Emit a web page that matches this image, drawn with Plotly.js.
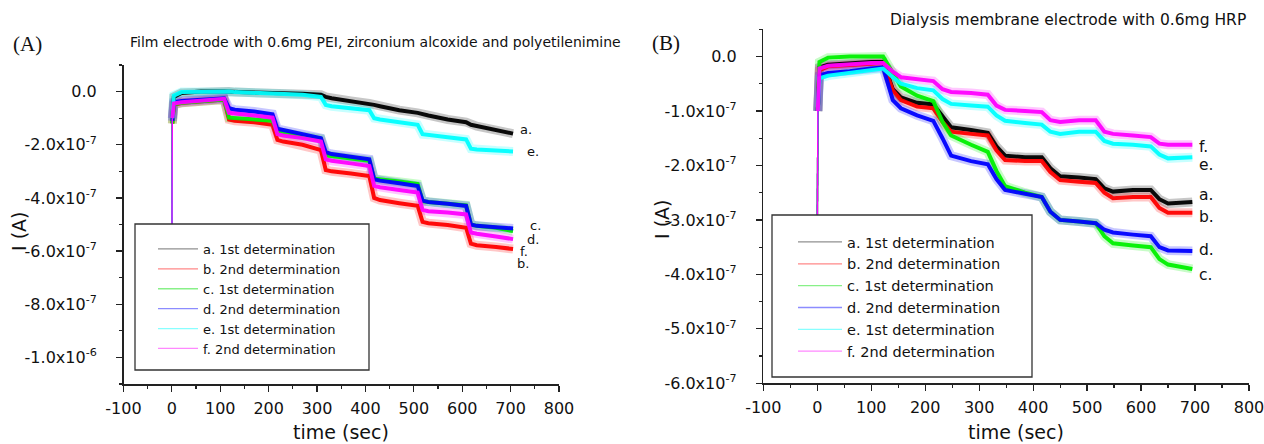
<!DOCTYPE html>
<html><head><meta charset="utf-8">
<script src="https://cdn.plot.ly/plotly-3.0.1.min.js"></script>
<style>html,body{margin:0;padding:0;background:#fff}#chart{width:1264px;height:444px}</style>
</head><body><div id="chart"></div>
<script>
const SCALE = 1e-7;
// Panel A: film electrode (current in units of 1e-7 A)
const timeA = [0, 1, 4, 20, 60, 108, 118, 130, 170, 208, 218, 230, 270, 308, 318, 330, 370, 408, 418, 430, 470, 508, 518, 530, 570, 608, 618, 630, 670, 705];
const A_a = [-6, -1.0, -0.2, -0.05, 0, 0, 0, -0.02, -0.03, -0.05, -0.05, -0.06, -0.08, -0.12, -0.2, -0.25, -0.35, -0.45, -0.5, -0.55, -0.7, -0.8, -0.85, -0.9, -1.05, -1.15, -1.25, -1.3, -1.45, -1.58];
const A_b = [-6, -1.2, -0.5, -0.42, -0.36, -0.3, -1.05, -1.1, -1.15, -1.25, -1.82, -1.88, -2.0, -2.2, -2.95, -3.0, -3.08, -3.18, -4.0, -4.08, -4.2, -4.3, -4.9, -4.95, -5.02, -5.12, -5.72, -5.78, -5.85, -5.92];
const A_c = [-6, -1.2, -0.48, -0.42, -0.35, -0.3, -0.98, -1.0, -1.05, -1.1, -1.5, -1.55, -1.68, -1.78, -2.4, -2.42, -2.5, -2.6, -3.28, -3.3, -3.38, -3.48, -4.12, -4.15, -4.22, -4.28, -5.0, -5.05, -5.12, -5.25];
const A_d = [-6, -1.1, -0.4, -0.35, -0.3, -0.25, -0.62, -0.68, -0.75, -0.85, -1.4, -1.45, -1.6, -1.75, -2.28, -2.35, -2.45, -2.55, -3.3, -3.35, -3.45, -3.55, -4.1, -4.15, -4.22, -4.3, -5.0, -5.05, -5.1, -5.15];
const A_e = [-6, -1.0, -0.15, -0.02, 0, 0, 0, -0.02, -0.04, -0.06, -0.07, -0.08, -0.12, -0.2, -0.5, -0.55, -0.62, -0.7, -1.0, -1.05, -1.15, -1.25, -1.6, -1.62, -1.72, -1.8, -2.15, -2.18, -2.22, -2.25];
const A_f = [-6, -1.0, -0.45, -0.4, -0.33, -0.27, -0.8, -0.82, -0.88, -0.98, -1.6, -1.65, -1.75, -1.88, -2.55, -2.6, -2.7, -2.8, -3.55, -3.6, -3.7, -3.8, -4.45, -4.5, -4.55, -4.62, -5.3, -5.35, -5.45, -5.55];
// Panel B: dialysis membrane electrode
const timeB = [0, 1, 4, 20, 60, 100, 122, 140, 155, 185, 215, 232, 248, 285, 316, 332, 348, 385, 416, 432, 450, 485, 516, 532, 548, 585, 618, 634, 650, 695];
const B_a = [-3.5, -1.0, -0.2, -0.15, -0.12, -0.1, -0.1, -0.6, -0.75, -0.85, -0.88, -1.1, -1.3, -1.35, -1.4, -1.65, -1.82, -1.85, -1.85, -2.05, -2.2, -2.22, -2.25, -2.42, -2.48, -2.45, -2.45, -2.62, -2.7, -2.67];
const B_b = [-3.5, -1.0, -0.25, -0.18, -0.15, -0.12, -0.12, -0.62, -0.8, -0.92, -0.95, -1.2, -1.38, -1.42, -1.45, -1.72, -1.9, -1.92, -1.92, -2.12, -2.27, -2.3, -2.32, -2.5, -2.6, -2.58, -2.58, -2.78, -2.87, -2.87];
const B_c = [-3.5, -1.0, -0.1, -0.02, 0, 0, 0, -0.3, -0.55, -0.72, -0.82, -1.2, -1.45, -1.62, -1.75, -2.1, -2.38, -2.5, -2.58, -2.85, -3.0, -3.03, -3.06, -3.3, -3.43, -3.47, -3.5, -3.72, -3.82, -3.9];
const B_d = [-3.5, -1.0, -0.35, -0.3, -0.27, -0.22, -0.2, -0.8, -0.95, -1.08, -1.18, -1.5, -1.82, -1.92, -1.98, -2.25, -2.45, -2.52, -2.58, -2.85, -3.0, -3.03, -3.06, -3.18, -3.23, -3.27, -3.3, -3.5, -3.56, -3.57];
const B_e = [-3.5, -1.0, -0.4, -0.35, -0.3, -0.25, -0.22, -0.38, -0.5, -0.58, -0.62, -0.78, -0.87, -0.9, -0.92, -1.08, -1.18, -1.22, -1.25, -1.38, -1.42, -1.38, -1.38, -1.55, -1.6, -1.62, -1.65, -1.8, -1.87, -1.85];
const B_f = [-3.5, -1.0, -0.22, -0.17, -0.14, -0.12, -0.12, -0.28, -0.38, -0.42, -0.45, -0.6, -0.65, -0.67, -0.7, -0.9, -0.98, -1.0, -1.02, -1.17, -1.2, -1.17, -1.17, -1.38, -1.42, -1.45, -1.48, -1.6, -1.62, -1.62];

const legendLabels = ["a. 1st determination", "b. 2nd determination", "c. 1st determination", "d. 2nd determination", "e. 1st determination", "f. 2nd determination"];
const endLabels = ["a.", "b.", "c.", "d.", "e.", "f."];
const endLabelTimeA = [715, 709, 736, 730, 730, 715];
const endLabelValA = [-1.42, -6.45, -5.05, -5.57, -2.27, -6.0];
const endLabelTimeB = [703, 703, 703, 703, 703, 703];
const endLabelValB = [-2.55, -2.94, -4.01, -3.55, -2.0, -1.66];
const colors = ["#000000", "#ff0000", "#00f000", "#0000ff", "#00ffff", "#ff00ff"];
const legendColors = ["#909090", "#ff8888", "#88f088", "#8c8cff", "#88ffff", "#ff88ff"];

const xTicks = [-100, 0, 100, 200, 300, 400, 500, 600, 700, 800];
const xTickText = ["-100", "0", "100", "200", "300", "400", "500", "600", "700", "800"];
const yTickValsA = [0, -2, -4, -6, -8, -10];
const yTickTextA = ["0.0", "-2.0x10<sup>-7</sup>", "-4.0x10<sup>-7</sup>", "-6.0x10<sup>-7</sup>", "-8.0x10<sup>-7</sup>", "-1.0x10<sup>-6</sup>"];
const yTickValsB = [0, -1, -2, -3, -4, -5, -6];
const yTickTextB = ["0.0", "-1.0x10<sup>-7</sup>", "-2.0x10<sup>-7</sup>", "-3.0x10<sup>-7</sup>", "-4.0x10<sup>-7</sup>", "-5.0x10<sup>-7</sup>", "-6.0x10<sup>-7</sup>"];

const W = 1264, H = 444;
const px = v => v / W, py = v => 1 - v / H;
const sc = arr => arr.map(v => v * SCALE);

const seriesA = [A_a, A_b, A_c, A_d, A_e, A_f];
const seriesB = [B_a, B_b, B_c, B_d, B_e, B_f];
const traces = [];
function addPanel(times, series, xa, ya, legendId) {
  series.forEach((vals, i) => {
    traces.push({x: times.slice(1), y: sc(vals.slice(1)), xaxis: xa, yaxis: ya, type: 'scatter', mode: 'lines',
      line: {color: colors[i], width: 9}, opacity: 0.22, showlegend: false, hoverinfo: 'skip'});
  });
  series.forEach((vals, i) => {
    traces.push({x: times.slice(1), y: sc(vals.slice(1)), xaxis: xa, yaxis: ya, type: 'scatter', mode: 'lines',
      line: {color: colors[i], width: 4}, opacity: 0.95, showlegend: false, hoverinfo: 'skip'});
  });
  series.forEach((vals, i) => {
    traces.push({x: times.slice(0, 2), y: sc(vals.slice(0, 2)), xaxis: xa, yaxis: ya, type: 'scatter', mode: 'lines',
      line: {color: colors[i], width: 1.3}, showlegend: false, hoverinfo: 'skip'});
  });
  series.forEach((vals, i) => {
    traces.push({x: [null], y: [null], xaxis: xa, yaxis: ya, type: 'scatter', mode: 'lines', name: legendLabels[i],
      line: {color: legendColors[i], width: 1.3}, showlegend: true, legend: legendId});
  });
}
addPanel(timeA, seriesA, 'x', 'y', 'legend');
addPanel(timeB, seriesB, 'x2', 'y2', 'legend2');

const tickFont = {family: 'DejaVu Sans', size: 16, color: '#111'};
function xAxis(d, anchor) {
  return {domain: d, anchor: anchor, range: [-100, 800], showline: true, linecolor: '#222', linewidth: 1.5,
    ticks: 'outside', ticklen: 6, tickwidth: 1.2, tickcolor: '#222', tickmode: 'array', tickvals: xTicks, ticktext: xTickText,
    tickfont: tickFont, showgrid: false, zeroline: false, ticklabelstandoff: 3, ticklabeloverflow: 'allow',
    minor: {tickmode: 'linear', tick0: -100, dtick: 50, ticks: 'outside', ticklen: 3, tickwidth: 1.2, tickcolor: '#222', showgrid: false}};
}
function yAxis(d, anchor, r, tv, tt, mdt) {
  return {domain: d, anchor: anchor, range: r, showline: true, linecolor: '#222', linewidth: 1.5,
    ticks: 'outside', ticklen: 6, tickwidth: 1.2, tickcolor: '#222', tickmode: 'array', tickvals: sc(tv), ticktext: tt,
    tickfont: tickFont, showgrid: false, zeroline: false, ticklabelstandoff: 16, ticklabeloverflow: 'allow',
    minor: {tickmode: 'linear', tick0: 0, dtick: mdt, ticks: 'outside', ticklen: 3, tickwidth: 1.2, tickcolor: '#222', showgrid: false}};
}

const ann = [];
const titleFont = {family: 'DejaVu Sans', color: '#111'};
ann.push({xref: 'paper', yref: 'paper', x: px(376), y: py(42), text: 'Film electrode with 0.6mg PEI, zirconium alcoxide and polyetilenimine', showarrow: false, font: Object.assign({size: 14}, titleFont), xanchor: 'center', yanchor: 'middle'});
ann.push({xref: 'paper', yref: 'paper', x: px(1068), y: py(20), text: 'Dialysis membrane electrode with 0.6mg HRP', showarrow: false, font: Object.assign({size: 15.5}, titleFont), xanchor: 'center', yanchor: 'middle'});
ann.push({xref: 'paper', yref: 'paper', x: px(27), y: py(44), text: '(A)', showarrow: false, font: {family: 'Liberation Serif', size: 21, color: '#111'}, xanchor: 'center', yanchor: 'middle'});
ann.push({xref: 'paper', yref: 'paper', x: px(666), y: py(43), text: '(B)', showarrow: false, font: {family: 'Liberation Serif', size: 21, color: '#111'}, xanchor: 'center', yanchor: 'middle'});
ann.push({xref: 'paper', yref: 'paper', x: px(19), y: py(232), text: 'I (A)', textangle: -90, showarrow: false, font: Object.assign({size: 19}, titleFont), xanchor: 'center', yanchor: 'middle'});
ann.push({xref: 'paper', yref: 'paper', x: px(662), y: py(220), text: 'I (A)', textangle: -90, showarrow: false, font: Object.assign({size: 19}, titleFont), xanchor: 'center', yanchor: 'middle'});
ann.push({xref: 'paper', yref: 'paper', x: px(341), y: py(432), text: 'time (sec)', showarrow: false, font: Object.assign({size: 19}, titleFont), xanchor: 'center', yanchor: 'middle'});
ann.push({xref: 'paper', yref: 'paper', x: px(1016), y: py(432), text: 'time (sec)', showarrow: false, font: Object.assign({size: 19}, titleFont), xanchor: 'center', yanchor: 'middle'});
endLabels.forEach((t, i) => {
  ann.push({xref: 'x', yref: 'y', x: endLabelTimeA[i], y: endLabelValA[i] * SCALE, text: t, showarrow: false, font: Object.assign({size: 13}, titleFont), xanchor: 'left', yanchor: 'middle'});
  ann.push({xref: 'x2', yref: 'y2', x: endLabelTimeB[i], y: endLabelValB[i] * SCALE, text: t, showarrow: false, font: Object.assign({size: 15.5}, titleFont), xanchor: 'left', yanchor: 'middle'});
});

const layout = {
  width: W, height: H, margin: {l: 0, r: 0, t: 0, b: 0}, paper_bgcolor: '#fff', plot_bgcolor: 'rgba(0,0,0,0)',
  xaxis: xAxis([px(123.5), px(559)], 'y'),
  yaxis: yAxis([1 - 384 / H, 1 - 65 / H], 'x', [-11 * SCALE, 1 * SCALE], yTickValsA, yTickTextA, 1 * SCALE),
  xaxis2: xAxis([px(763.3), px(1249)], 'y2'),
  yaxis2: yAxis([1 - 383.3 / H, 1 - 29.3 / H], 'x2', [-6 * SCALE, 0.5 * SCALE], yTickValsB, yTickTextB, 0.5 * SCALE),
  legend: {x: px(153), y: py(234), xanchor: 'left', yanchor: 'top', bgcolor: 'rgba(0,0,0,0)', borderwidth: 0,
    font: {family: 'DejaVu Sans', size: 13, color: '#111'}, itemwidth: 40, tracegroupgap: 0},
  legend2: {x: px(793), y: py(226), xanchor: 'left', yanchor: 'top', bgcolor: 'rgba(0,0,0,0)', borderwidth: 0,
    font: {family: 'DejaVu Sans', size: 14.5, color: '#111'}, itemwidth: 44, tracegroupgap: 0},
  shapes: [
    {type: 'rect', xref: 'paper', yref: 'paper', x0: px(135), x1: px(369), y0: py(370), y1: py(224), fillcolor: '#fff', line: {color: '#333', width: 1.3}, layer: 'above'},
    {type: 'rect', xref: 'paper', yref: 'paper', x0: px(772), x1: px(1032), y0: py(377), y1: py(215), fillcolor: '#fff', line: {color: '#333', width: 1.3}, layer: 'above'}
  ],
  annotations: ann,
  showlegend: true
};
Plotly.newPlot('chart', traces, layout, {staticPlot: true, displayModeBar: false});
</script></body></html>
